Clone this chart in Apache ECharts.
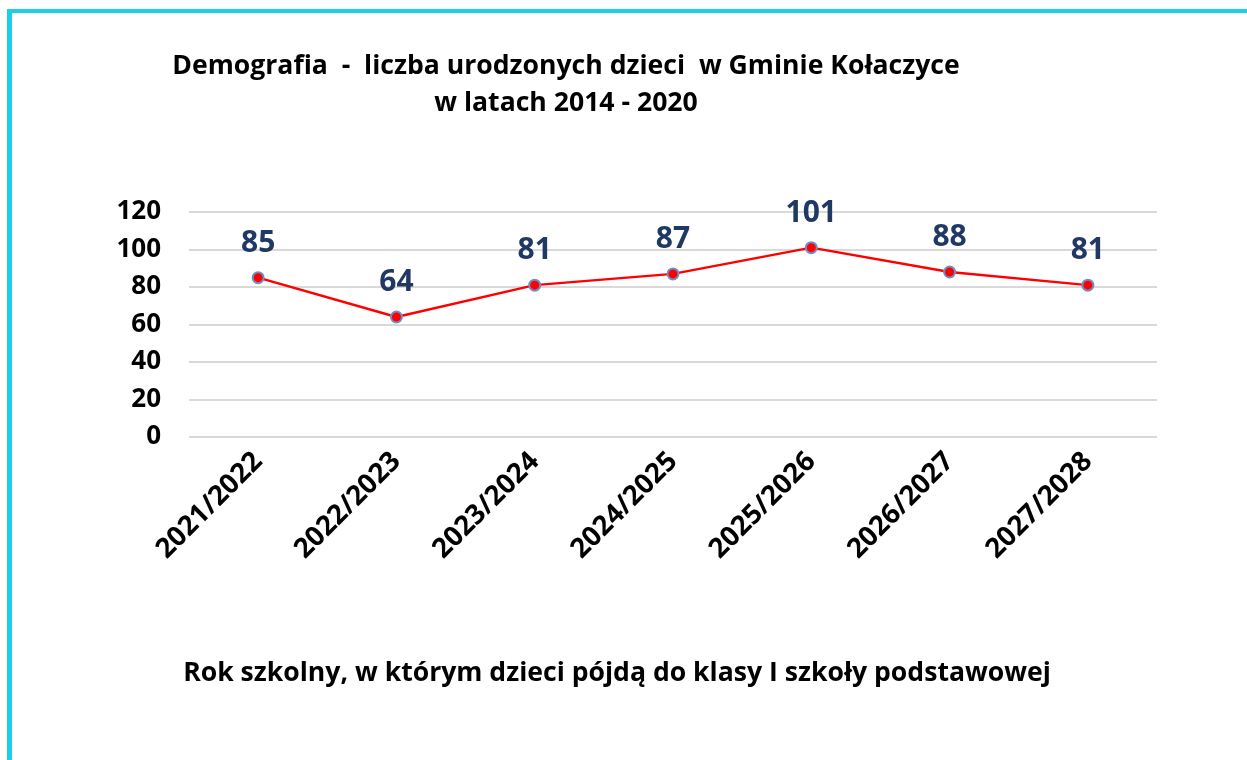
<!DOCTYPE html>
<html>
<head>
<meta charset="utf-8">
<script src="https://cdn.jsdelivr.net/npm/echarts@6/dist/echarts.min.js"></script>
<style>
  html, body { margin: 0; padding: 0; background: #fff; }
  #frame { position: absolute; left: 7px; top: 9px; right: 0; bottom: 0;
    border-left: 5px solid #1bcfe9; border-top: 4px solid #1bcfe9; }
  #chart { position: absolute; left: 0; top: 0; width: 1247px; height: 760px; }
</style>
</head>
<body>
<div id="frame"></div>
<div id="chart"></div>
<script>
  const years = ['2021/2022', '2022/2023', '2023/2024', '2024/2025', '2025/2026', '2026/2027', '2027/2028'];
  const births = [85, 64, 81, 87, 101, 88, 81];

  const font = 'Open Sans';
  const myChart = echarts.init(document.getElementById('chart'));
  const option = {
    animation: false,
    title: [
      {
        text: 'Demografia  -  liczba urodzonych dzieci  w Gminie Kołaczyce',
        left: 561, top: 48, textAlign: 'center',
        textStyle: { fontFamily: font, fontSize: 26.6, fontWeight: 'bold', color: '#000' }
      },
      {
        text: 'w latach 2014 - 2020',
        left: 561, top: 85, textAlign: 'center',
        textStyle: { fontFamily: font, fontSize: 26.6, fontWeight: 'bold', color: '#000' }
      },
      {
        text: 'Rok szkolny, w którym dzieci pójdą do klasy I szkoły podstawowej',
        left: 612, top: 655, textAlign: 'center',
        textStyle: { fontFamily: font, fontSize: 26.6, fontWeight: 'bold', color: '#000' }
      }
    ],
    grid: { left: 189, right: 90, top: 212, height: 225, containLabel: false },
    xAxis: {
      type: 'category',
      data: years,
      boundaryGap: true,
      axisLine: { show: false },
      axisTick: { show: false },
      axisLabel: {
        rotate: 45, margin: 20, interval: 0,
        fontFamily: font, fontSize: 27.5, fontWeight: 'bold', color: '#000'
      }
    },
    yAxis: {
      type: 'value',
      min: 0, max: 120, interval: 20,
      axisLine: { show: false },
      axisTick: { show: false },
      splitLine: { lineStyle: { color: '#d9d9d9', width: 2 } },
      axisLabel: {
        margin: 28,
        fontFamily: font, fontSize: 26, fontWeight: 'bold', color: '#000'
      }
    },
    series: [{
      type: 'line',
      data: births,
      symbol: 'circle',
      symbolSize: 11,
      lineStyle: { color: '#ff0000', width: 2.5 },
      itemStyle: { color: '#ff0000', borderColor: '#6f8fc8', borderWidth: 2 },
      label: {
        show: true, position: 'top', distance: 13,
        fontFamily: font, fontSize: 30, fontWeight: 'bold', color: '#1f3864'
      }
    }]
  };
  myChart.setOption(option);
</script>
</body>
</html>
